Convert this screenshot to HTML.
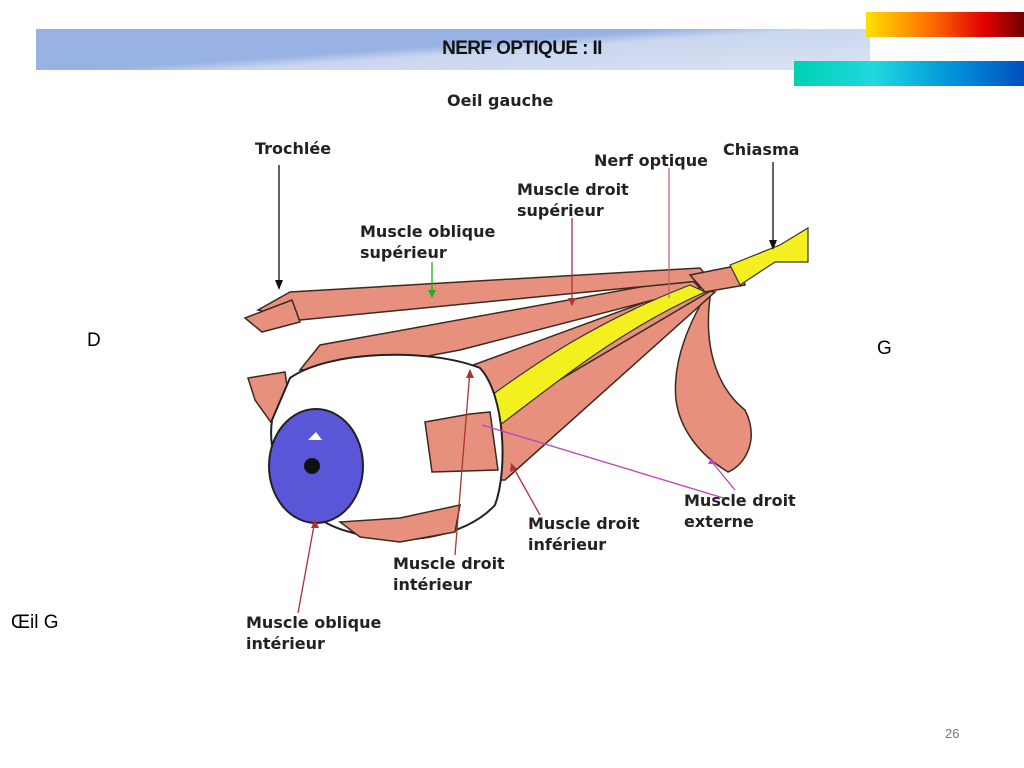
<!DOCTYPE html>
<html><head><meta charset="utf-8"><style>
body{margin:0;width:1024px;height:768px;background:#fff;position:relative;overflow:hidden;font-family:"Liberation Sans",sans-serif}
.band{position:absolute;left:36px;top:29px;width:834px;height:41px;background:linear-gradient(176deg,#98b2e3 0%,#98b2e3 45%,#c9d6ee 55%,#dbe4f4 100%)}
.title{position:absolute;left:0;width:1044px;top:38px;text-align:center;font-weight:bold;font-size:19px;color:#111;letter-spacing:-0.6px}
.b1{position:absolute;left:866px;top:12px;width:158px;height:25px;background:linear-gradient(90deg,#ffe000,#ff7000 40%,#e00000 75%,#700000)}
.b2{position:absolute;left:794px;top:61px;width:230px;height:25px;background:linear-gradient(90deg,#00d0b0,#20d8e0 35%,#0090d8 70%,#0050c0)}
.t{position:absolute;font-size:19px;color:#000}
svg text{font-family:"DejaVu Sans","Liberation Sans",sans-serif;font-weight:bold;font-size:16px;fill:#222}
</style></head><body>
<div class="band"></div><div class="b1"></div><div class="b2"></div>
<div class="title">NERF OPTIQUE : II</div>
<svg width="1024" height="768" style="position:absolute;left:0;top:0">
<g stroke="#3a2a20" stroke-width="1.5" fill="#e8907e">
<path d="M712 285 C690 320 672 360 676 400 C680 430 700 455 728 472 C745 465 760 440 745 410 C720 390 700 350 712 285Z"/>
<path d="M248 378 L285 372 L292 420 L275 428 L255 400Z"/>
<path d="M490 420 L700 290 L715 292 L505 480 L490 480 Z"/>
<path d="M465 368 L700 282 L712 290 L505 412 L490 400Z"/>
<path d="M300 370 L320 345 L690 278 L700 288 L460 350 L380 365 Z"/>
<path d="M258 310 L290 292 L700 268 L710 280 L300 320 Z"/>
<path d="M245 318 L292 300 L300 322 L262 332 Z"/>
<path d="M690 275 L740 265 L745 285 L705 292Z"/>
</g>
<path d="M492 395 C540 360 600 320 690 285 L705 292 C620 330 560 380 500 425Z" fill="#f4f020" stroke="#333" stroke-width="1.2"/>
<path d="M730 265 L780 245 L808 228 L808 262 L775 262 L740 285Z" fill="#f4f020" stroke="#333" stroke-width="1.2"/>
<path d="M290 378 C330 350 430 348 480 368 C505 395 508 470 495 505 C465 538 400 548 350 532 C300 520 265 470 272 420Z" fill="#fff" stroke="#222" stroke-width="2"/>
<g stroke="#3a2a20" stroke-width="1.5" fill="#e8907e">
<path d="M340 522 L400 518 L460 505 L455 532 L400 542 L360 537Z"/>
<path d="M425 422 L470 414 L490 412 L498 470 L432 472Z"/>
</g>
<ellipse cx="316" cy="466" rx="47" ry="57" fill="#5a56d8" stroke="#222" stroke-width="2"/>
<circle cx="312" cy="466" r="8" fill="#111"/>
<path d="M308 440 l8 -8 l6 8z" fill="#fff"/>
<g stroke-width="1.3" fill="none">
<line x1="279" y1="165" x2="279" y2="288" stroke="#111"/>
<line x1="773" y1="162" x2="773" y2="248" stroke="#111"/>
<line x1="432" y1="262" x2="432" y2="296" stroke="#2a2"/>
<line x1="572" y1="218" x2="572" y2="305" stroke="#a33"/>
<line x1="669" y1="168" x2="669" y2="298" stroke="#c66"/>
<line x1="470" y1="370" x2="455" y2="555" stroke="#a33"/>
<line x1="512" y1="465" x2="540" y2="515" stroke="#a33"/>
<line x1="482" y1="425" x2="730" y2="500" stroke="#b4b"/>
<line x1="712" y1="462" x2="735" y2="490" stroke="#b4b"/>
<line x1="315" y1="520" x2="298" y2="613" stroke="#a33"/>
</g>
<g>
<path d="M275 280 l4 10 l4 -10z" fill="#111"/>
<path d="M769 240 l4 10 l4 -10z" fill="#111"/>
<path d="M428 290 l4 8 l4 -8z" fill="#2a2"/>
<path d="M568 298 l4 8 l4 -8z" fill="#a33"/>
<path d="M466 378 l4 -9 l4 9z" fill="#a33"/>
<path d="M510 472 l1 -9 l6 6z" fill="#a33"/>
<path d="M311 528 l4 -9 l4 9z" fill="#a33"/>
<path d="M708 464 l3 -6 l5 6z" fill="#b4b"/>
</g>
<text x="447" y="106">Oeil gauche</text>
<text x="255" y="154">Trochlée</text>
<text x="594" y="166">Nerf optique</text>
<text x="723" y="155">Chiasma</text>
<text x="517" y="195">Muscle droit</text>
<text x="517" y="216">supérieur</text>
<text x="360" y="237">Muscle oblique</text>
<text x="360" y="258">supérieur</text>
<text x="684" y="506">Muscle droit</text>
<text x="684" y="527">externe</text>
<text x="528" y="529">Muscle droit</text>
<text x="528" y="550">inférieur</text>
<text x="393" y="569">Muscle droit</text>
<text x="393" y="590">intérieur</text>
<text x="246" y="628">Muscle oblique</text>
<text x="246" y="649">intérieur</text>
</svg>
<div class="t" style="left:87px;top:330px">D</div>
<div class="t" style="left:877px;top:338px">G</div>
<div class="t" style="left:11px;top:612px">Œil G</div>
<div style="position:absolute;left:945px;top:726px;font-size:13px;color:#777">26</div>
</body></html>
